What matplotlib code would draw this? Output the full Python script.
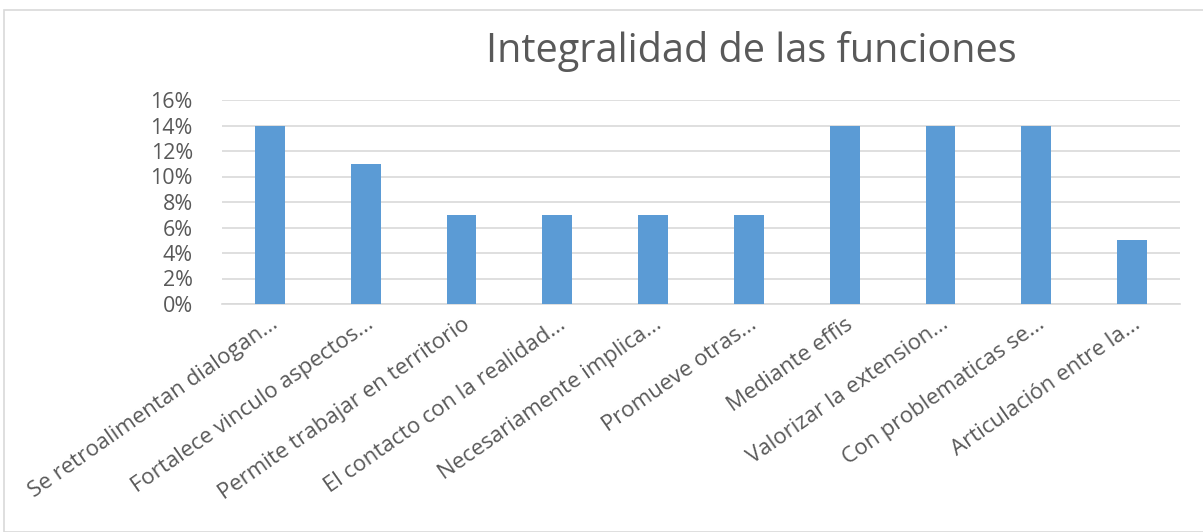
import matplotlib.pyplot as plt
from matplotlib.patches import Rectangle
from matplotlib.ticker import PercentFormatter
import numpy as np

categories = [
    "Se retroalimentan dialogan...",
    "Fortalece vinculo aspectos...",
    "Permite trabajar en territorio",
    "El contacto con la realidad...",
    "Necesariamente implica...",
    "Promueve otras...",
    "Mediante effis",
    "Valorizar la extension...",
    "Con problematicas se...",
    "Articulación entre la...",
]
values = [0.14, 0.11, 0.07, 0.07, 0.07, 0.07, 0.14, 0.14, 0.14, 0.05]
yticks = [0, 0.02, 0.04, 0.06, 0.08, 0.10, 0.12, 0.14, 0.16]

plt.rcParams['font.family'] = ['Open Sans', 'DejaVu Sans']

fig = plt.figure(figsize=(12.03, 5.32), dpi=100)
fig.patches.append(Rectangle((4 / 1203, 0), 1.0, 1 - 10 / 532,
                             transform=fig.transFigure, fill=False,
                             edgecolor="#d9d9d9", linewidth=1.2))

ax = fig.add_axes([222 / 1203, 1 - 304 / 532, (1180 - 222) / 1203, 204 / 532])
x = np.arange(len(categories))
ax.bar(x, values, width=0.31, color="#5b9bd5", zorder=3)

ax.set_xlim(-0.5, len(categories) - 0.5)
ax.set_ylim(0, 0.16)
ax.set_yticks(yticks)
ax.yaxis.set_major_formatter(PercentFormatter(1.0, decimals=0))
ax.grid(axis="y", color="#d9d9d9", linewidth=1.2, zorder=0)

for side in ["top", "right", "left"]:
    ax.spines[side].set_visible(False)
ax.spines["bottom"].set_color("#d9d9d9")
ax.spines["bottom"].set_linewidth(1.2)

ax.tick_params(axis="both", length=0, colors="#595959")
ax.tick_params(axis="y", pad=21, labelsize=15.5)
ax.tick_params(axis="x", pad=7, labelsize=16)
ax.set_xticks(x)
ax.set_xticklabels(categories, rotation=35, ha="right", rotation_mode="anchor")

fig.text(751 / 1203, 1 - 51 / 532, "Integralidad de las funciones",
         ha="center", va="center", fontsize=28.5, color="#595959")

fig.savefig("out.png", dpi=100)
